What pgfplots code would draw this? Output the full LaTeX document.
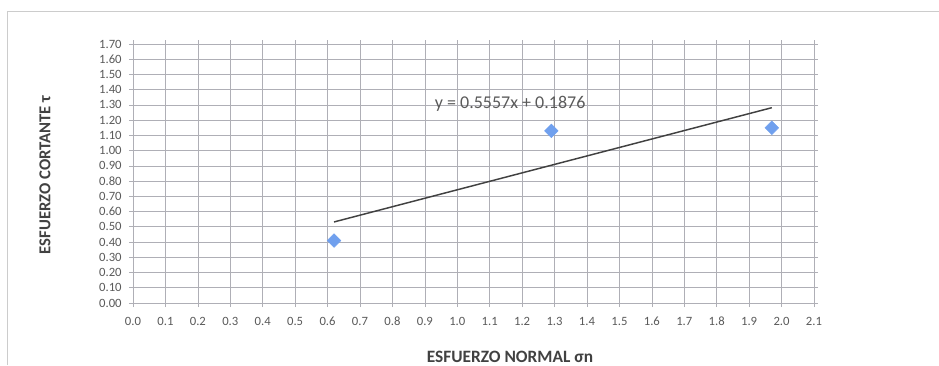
\documentclass[border=0pt]{standalone}
\usepackage{pgfplots}
\pgfplotsset{compat=1.18}
\usepackage{fontspec}
\setmainfont{Carlito}
\definecolor{gridc}{RGB}{175,175,182}
\definecolor{txtc}{RGB}{90,90,90}
\definecolor{titc}{RGB}{65,65,65}
\definecolor{ptc}{RGB}{112,160,238}
\definecolor{trendc}{RGB}{65,65,65}
\begin{document}
\begin{tikzpicture}
\path[use as bounding box] (-99.75pt,-46.5pt) rectangle (604.5pt,227.25pt);
\draw[gray!40, line width=0.6pt] (-94.5pt,-46.5pt) -- (-94.5pt,219pt) -- (604.5pt,219pt);
\begin{axis}[
  scale only axis,
  width=510.75pt, height=194.25pt,
  xmin=0, xmax=2.1, ymin=0, ymax=1.7,
  xtick={0,0.1,...,2.15}, ytick={0,0.1,...,1.75},
  grid=major,
  major grid style={gridc, line width=0.5pt},
  axis line style={gridc, line width=0.6pt},
  tick style={gridc, line width=0.5pt},
  tick align=outside, major tick length=3pt,
  xticklabel style={/pgf/number format/.cd, fixed, fixed zerofill, precision=1},
  yticklabel style={/pgf/number format/.cd, fixed, fixed zerofill, precision=2},
  /pgf/number format/assume math mode=true,
  ticklabel style={font=\fontsize{9.5}{10}\selectfont, text=txtc, text height=7pt, text depth=1pt},
  xticklabel shift=3pt, yticklabel shift=2pt,
  xlabel={ESFUERZO NORMAL σn},
  ylabel={ESFUERZO CORTANTE τ},
  xlabel style={at={(axis description cs:0.5536,-0.2085)}, anchor=center, font=\fontsize{13}{15}\selectfont\bfseries, text=titc},
  ylabel style={at={(axis description cs:-0.1292,0.494)}, anchor=center, rotate=0, font=\fontsize{12.5}{15}\selectfont\bfseries, text=titc},
  clip=false,
]
\addplot[only marks, mark=square*, mark size=3.6pt, color=ptc, mark options={fill=ptc, draw=ptc, rotate=45}]
  coordinates {(0.62,0.41) (1.29,1.13) (1.97,1.15)};
\addplot[trendc, line width=1.1pt] coordinates {(0.62,0.532) (1.97,1.282)};
\node[font=\fontsize{13.5}{15}\selectfont, text=txtc] at (axis cs:1.163,1.306) {y = 0.5557x + 0.1876};
\end{axis}
\end{tikzpicture}
\end{document}
